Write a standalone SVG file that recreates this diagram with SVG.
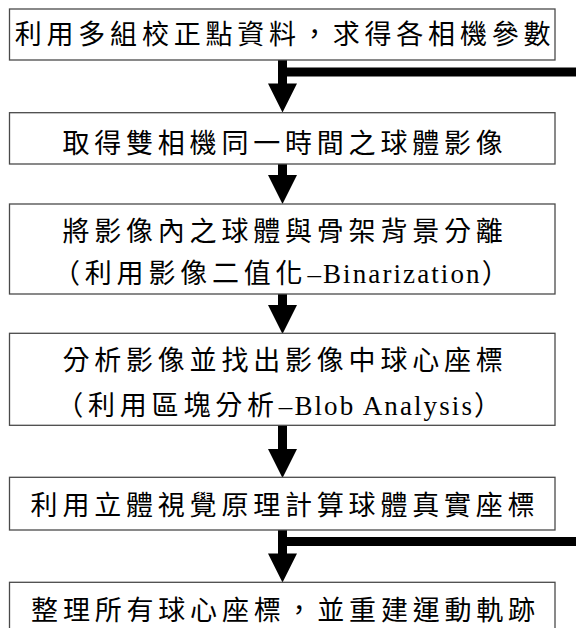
<svg xmlns="http://www.w3.org/2000/svg" width="576" height="628" viewBox="0 0 576 628">
<style>
.box{fill:#fff;stroke:#4a4a4a;stroke-width:1.3}
text{fill:#000;text-anchor:middle}
.cj{font-family:"Noto Sans CJK TC","Noto Sans CJK SC",sans-serif;font-size:27px;letter-spacing:4.8px}
.lat{font-family:"Liberation Serif",serif;font-size:27px;letter-spacing:2.1px}
.conn{fill:#000}
</style>
<defs>
<path id="head" d="M-14.5,0 L14.5,0 L0,29 Z"/>
</defs>
<rect width="576" height="628" fill="#fff"/>
<g id="connectors" class="conn">
<rect x="278" y="60" width="9" height="24"/>
<rect x="278" y="67.5" width="298" height="9"/>
<use href="#head" x="282.5" y="83.5"/>
<rect x="278" y="164" width="9" height="12"/>
<use href="#head" x="282.5" y="175"/>
<rect x="278" y="294" width="9" height="12"/>
<use href="#head" x="282.5" y="305"/>
<rect x="278" y="425" width="9" height="25"/>
<use href="#head" x="282.5" y="449"/>
<rect x="278" y="530" width="9" height="24"/>
<rect x="278" y="537" width="298" height="9"/>
<use href="#head" x="282.5" y="553.5"/>
</g>
<g id="n1"><rect class="box" x="9.5" y="9" width="545.5" height="51"/>
<text class="cj" x="285" y="44.3">利用多組校正點資料，求得各相機參數</text></g>
<g id="n2"><rect class="box" x="9.5" y="112.7" width="545.5" height="51.3"/>
<text class="cj" x="285" y="152.8">取得雙相機同一時間之球體影像</text></g>
<g id="n3"><rect class="box" x="9.5" y="204" width="545.5" height="90"/>
<text class="cj" x="285" y="240.8">將影像內之球體與骨架背景分離</text>
<text x="283.25" y="283"><tspan class="cj">（利用影像二值化</tspan><tspan class="lat">–Binarization</tspan><tspan class="cj">）</tspan></text></g>
<g id="n4"><rect class="box" x="9.5" y="333.3" width="545.5" height="92"/>
<text class="cj" x="285" y="369.8">分析影像並找出影像中球心座標</text>
<text x="281" y="414.5"><tspan class="cj">（利用區塊分析</tspan><tspan class="lat">–Blob Analysis</tspan><tspan class="cj">）</tspan></text></g>
<g id="n5"><rect class="box" x="9.5" y="477.3" width="545.5" height="52.7"/>
<text class="cj" x="285" y="514.8">利用立體視覺原理計算球體真實座標</text></g>
<g id="n6"><rect class="box" x="9.5" y="582.3" width="545.5" height="60"/>
<text class="cj" x="285.5" y="619.8">整理所有球心座標，並重建運動軌跡</text></g>
</svg>
